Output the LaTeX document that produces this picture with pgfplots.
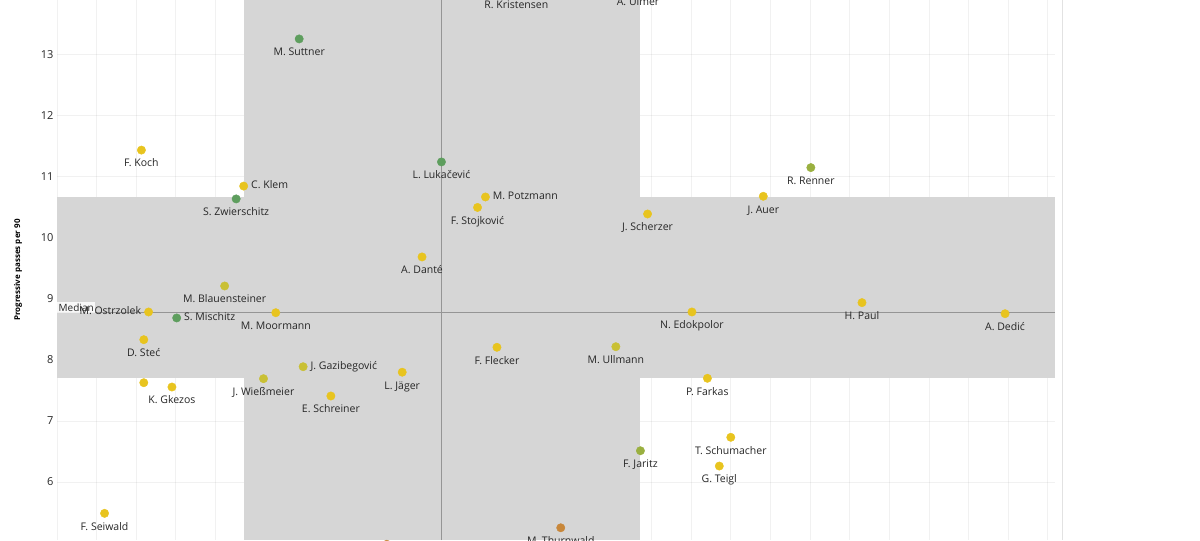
\documentclass[border=0pt]{standalone}
\usepackage{pgfplots}
\pgfplotsset{compat=1.18}
\usepackage{pgfplotstable}
\usepackage{fontspec}
\setmainfont{Open Sans}
\definecolor{cy}{HTML}{E8C41F}
\definecolor{co}{HTML}{C9C034}
\definecolor{cg}{HTML}{5E9E5E}
\definecolor{cgy}{HTML}{9AB040}
\definecolor{cor}{HTML}{C8873A}
\definecolor{band}{HTML}{D6D6D6}
\definecolor{med}{HTML}{959595}
\definecolor{lab}{HTML}{262626}
\definecolor{sep}{HTML}{E2E2E2}

% yellow players, label below
\pgfplotstableread[col sep=comma,row sep=\\]{
x,y,name\\
2.13,11.44,F. Koch\\
5.52,8.775,M. Moormann\\
2.19,8.333,D. Steć\\
2.90,7.557,K. Gkezos\\
6.91,7.41,E. Schreiner\\
1.20,5.487,F. Seiwald\\
8.71,7.80,L. Jäger\\
9.21,9.689,A. Danté\\
10.61,10.50,F. Stojković\\
14.90,10.393,J. Scherzer\\
17.82,10.683,J. Auer\\
11.10,8.208,F. Flecker\\
16.41,7.70,P. Farkas\\
17.00,6.733,T. Schumacher\\
16.71,6.262,G. Teigl\\
20.31,8.94,H. Paul\\
23.92,8.759,A. Dedić\\
16.02,8.787,N. Edokpolor\\
11.59,14.03,R. Kristensen\\
14.66,14.08,A. Ulmer\\
}\yellowB
% yellow, label right
\pgfplotstableread[col sep=comma,row sep=\\]{
x,y,name\\
4.71,10.85,C. Klem\\
10.81,10.672,M. Potzmann\\
}\yellowR
% yellow, label left
\pgfplotstableread[col sep=comma,row sep=\\]{
x,y,name\\
2.31,8.787,M. Ostrzolek\\
}\yellowL
% yellow, label hidden
\pgfplotstableread[col sep=comma,row sep=\\]{
x,y\\
2.19,7.628\\
}\yellowN
% olive
\pgfplotstableread[col sep=comma,row sep=\\]{
x,y,name\\
4.23,9.213,M. Blauensteiner\\
14.10,8.218,M. Ullmann\\
5.21,7.694,J. Wießmeier\\
}\oliveB
\pgfplotstableread[col sep=comma,row sep=\\]{
x,y,name\\
6.21,7.89,J. Gazibegović\\
}\oliveR
% green
\pgfplotstableread[col sep=comma,row sep=\\]{
x,y,name\\
6.11,13.262,M. Suttner\\
4.52,10.64,S. Zwierschitz\\
9.70,11.246,L. Lukačević\\
}\greenB
\pgfplotstableread[col sep=comma,row sep=\\]{
x,y,name\\
3.02,8.689,S. Mischitz\\
}\greenR
% green-yellow
\pgfplotstableread[col sep=comma,row sep=\\]{
x,y,name\\
19.02,11.153,R. Renner\\
14.72,6.513,F. Jaritz\\
}\gyB
% orange
\pgfplotstableread[col sep=comma,row sep=\\]{
x,y,name\\
12.71,5.25,M. Thurnwald\\
}\orangeB
\pgfplotstableread[col sep=comma,row sep=\\]{
x,y\\
8.32,4.98\\
}\orangeN

\pgfplotsset{
  pts/.style={only marks, mark=*, mark size=4.2pt},
  lblbase/.style={
    pts,
    point meta=explicit symbolic,
    nodes near coords,
    every node near coord/.append style={
      font=\fontsize{10.5}{12}\selectfont, text=lab,
      text height=7.5pt, text depth=2pt,
      inner xsep=7.3pt, inner ysep=9.2pt},
  },
  lblB/.style={lblbase, every node near coord/.append style={anchor=north}},
  lblR/.style={lblbase, every node near coord/.append style={anchor=west}},
  lblL/.style={lblbase, every node near coord/.append style={anchor=east}},
}

\begin{document}
\begin{tikzpicture}
\begin{axis}[
  name=ax,
  width=998pt, height=540pt, scale only axis,
  xmin=0, xmax=25.18, ymin=5.05, ymax=13.9,
  enlargelimits=false,
  xtick={0,...,25},
  xmajorticks=false,
  ytick={5,...,13},
  grid=major,
  major grid style={black, opacity=0.055, line width=0.9pt},
  axis line style={draw=none},
  tick style={draw=none},
  /pgf/number format/assume math mode=true,
  yticklabel style={font=\fontsize{11}{13}\selectfont, text=lab},
  ylabel={Progressive passes per 90},
  ylabel style={font=\bfseries\fontsize{8}{10}\selectfont, text=black,
    at={(axis description cs:-0.0391,0.5)}, anchor=center},
  clip=false,
]
% quadrant bands (kept inside the axis limits)
\addplot[fill=band, draw=none, on layer=axis background]
  coordinates {(0,7.70) (25.18,7.70) (25.18,10.67) (0,10.67)} -- cycle;
\addplot[fill=band, draw=none, on layer=axis background]
  coordinates {(4.72,5.05) (14.72,5.05) (14.72,13.9) (4.72,13.9)} -- cycle;
% medians
\addplot[med, line width=1.5pt] coordinates {(0,8.775) (25.18,8.775)};
\addplot[med, line width=1.5pt] coordinates {(9.70,5.05) (9.70,13.9)};
\node[anchor=south west, fill=white, fill opacity=0.85, text opacity=1,
  text=lab, font=\fontsize{10}{12}\selectfont, inner xsep=1.5pt, inner ysep=1.2pt]
  at (axis cs:0,8.775) {Median};
% points
\addplot[lblB, color=cy] table[x=x, y=y, meta=name] {\yellowB};
\addplot[lblR, color=cy] table[x=x, y=y, meta=name] {\yellowR};
\addplot[lblL, color=cy] table[x=x, y=y, meta=name] {\yellowL};
\addplot[pts, color=cy] table[x=x, y=y] {\yellowN};
\addplot[lblB, color=co] table[x=x, y=y, meta=name] {\oliveB};
\addplot[lblR, color=co] table[x=x, y=y, meta=name] {\oliveR};
\addplot[lblB, color=cg] table[x=x, y=y, meta=name] {\greenB};
\addplot[lblR, color=cg] table[x=x, y=y, meta=name] {\greenR};
\addplot[lblB, color=cgy] table[x=x, y=y, meta=name] {\gyB};
\addplot[lblB, color=cor] table[x=x, y=y, meta=name] {\orangeB};
\addplot[pts, color=cor] table[x=x, y=y] {\orangeN};
\coordinate (bl) at (rel axis cs:0,0);
\coordinate (tr) at (rel axis cs:1,1);
\coordinate (br) at (rel axis cs:1,0);
\end{axis}
\draw[sep, line width=1pt] ([xshift=7pt]br) -- ([xshift=7pt]tr);
\pgfresetboundingbox
\useasboundingbox ([xshift=-57pt]bl) rectangle ([xshift=145pt]tr);
\end{tikzpicture}
\end{document}
